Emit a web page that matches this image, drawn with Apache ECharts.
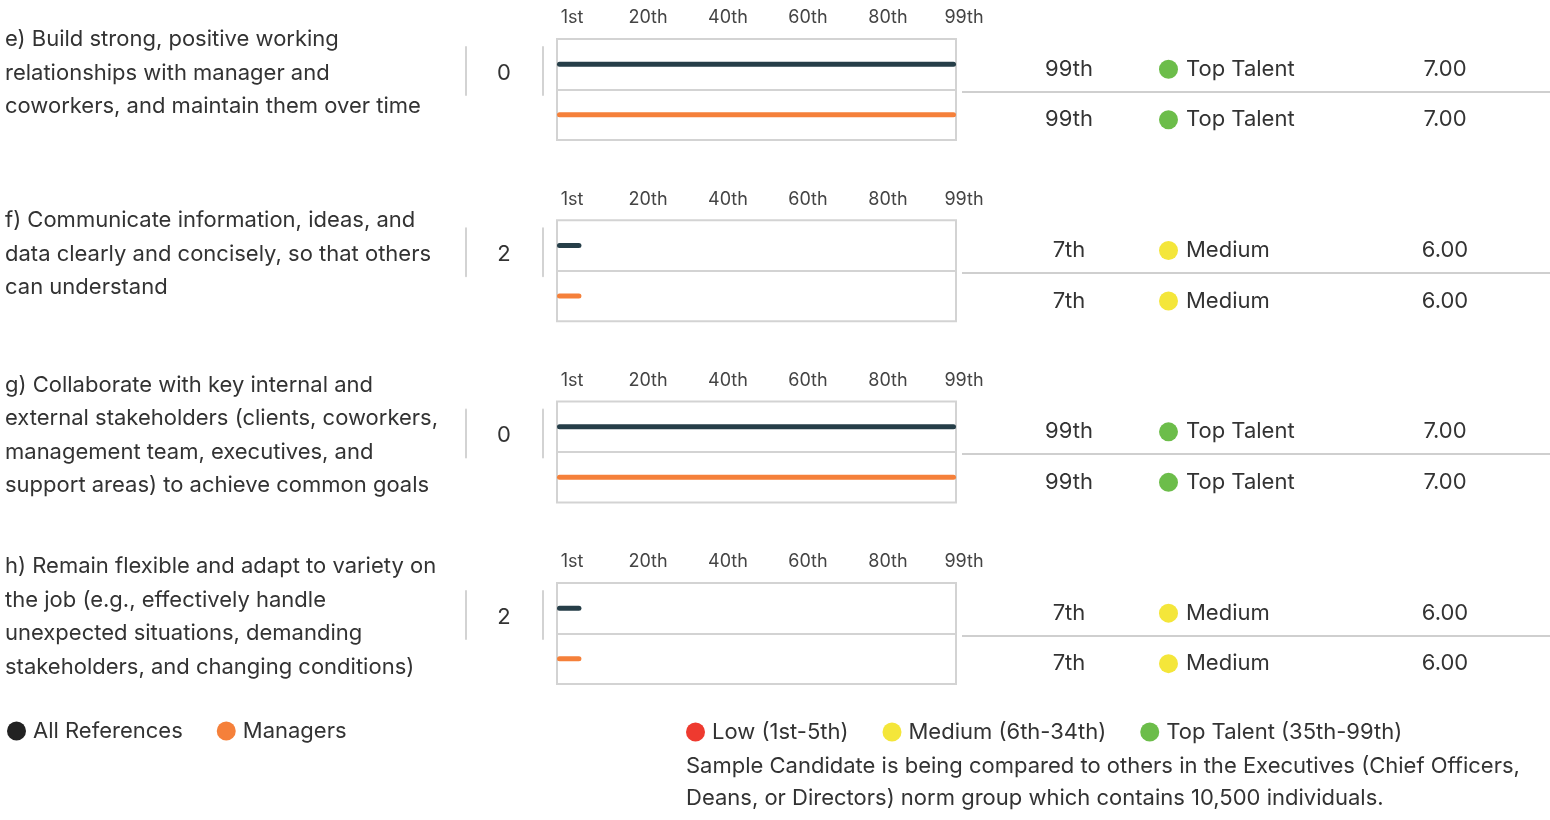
<!DOCTYPE html>
<html>
<head>
<meta charset="utf-8">
<script src="https://cdn.jsdelivr.net/npm/echarts@6/dist/echarts.min.js"></script>
<style>
  html, body { margin: 0; padding: 0; background: #fff; }
  #main { width: 1550px; height: 820px; }
</style>
</head>
<body>
<div id="main"></div>
<script>
// question texts (left column)
var questions = [
  'e) Build strong, positive working\nrelationships with manager and\ncoworkers, and maintain them over time',
  'f) Communicate information, ideas, and\ndata clearly and concisely, so that others\ncan understand',
  'g) Collaborate with key internal and\nexternal stakeholders (clients, coworkers,\nmanagement team, executives, and\nsupport areas) to achieve common goals',
  'h) Remain flexible and adapt to variety on\nthe job (e.g., effectively handle\nunexpected situations, demanding\nstakeholders, and changing conditions)'
];
var counts = [0, 2, 0, 2];
var groups = ['All References', 'Managers'];
var allRefPct = [99, 7, 99, 7];        // All References percentile
var managerPct = [99, 7, 99, 7];       // Managers percentile
var allRefRating = ['Top Talent', 'Medium', 'Top Talent', 'Medium'];
var managerRating = ['Top Talent', 'Medium', 'Top Talent', 'Medium'];
var allRefScore = [7.00, 6.00, 7.00, 6.00];
var managerScore = [7.00, 6.00, 7.00, 6.00];
var tickValues = [1, 20, 40, 60, 80, 99];
var tickLabels = ['1st', '20th', '40th', '60th', '80th', '99th'];
var ratingBands = ['Low (1st-5th)', 'Medium (6th-34th)', 'Top Talent (35th-99th)'];
var normNote = 'Sample Candidate is being compared to others in the Executives (Chief Officers,\nDeans, or Directors) norm group which contains 10,500 individuals.';

var FONT = 'Inter';
var FS = 22;
var TXT = '#333';
var LINE = '#d3d3d3';
var DARK = '#263e48';
var ORANGE = '#f5803a';
var ratingKey = { 'Low': 'dR', 'Medium': 'dY', 'Top Talent': 'dG' };
var dots = {
  dG: { width: 19, height: 19, borderRadius: 10, backgroundColor: '#6cbd4a' },
  dY: { width: 19, height: 19, borderRadius: 10, backgroundColor: '#f4e63a' },
  dR: { width: 19, height: 19, borderRadius: 10, backgroundColor: '#ee3a2f' }
};

function ordinal(n) {
  var s = ['th', 'st', 'nd', 'rd'], v = n % 100;
  return n + (s[(v - 20) % 10] || s[v] || s[0]);
}

var chart = echarts.init(document.getElementById('main'));

var grid = [], xAxis = [], yAxis = [], series = [];
var PITCH = 181.3, TOP0 = 39, H = 101;

function addGrid(g, xOpt) {
  grid.push(g);
  xAxis.push(Object.assign({ gridIndex: grid.length - 1, type: 'value', min: 0, max: 1, show: false }, xOpt || {}));
  return grid.length - 1;
}

for (var i = 0; i < questions.length; i++) {
  var T = TOP0 + i * PITCH;

  // percentile tick labels
  var gLab = addGrid({ left: 568, width: 400, top: T, height: H }, {
    min: 0, max: 100, show: true, position: 'top',
    axisLine: { show: false }, axisTick: { show: false }, splitLine: { show: false },
    axisLabel: {
      customValues: tickValues, margin: 12, fontFamily: FONT, fontSize: 18, color: '#444',
      formatter: function (v) { return tickLabels[tickValues.indexOf(v)]; }
    }
  });
  yAxis.push({ gridIndex: gLab, type: 'value', show: false });

  // bars
  var gBar = addGrid({ left: 557, width: 399, top: T, height: H, show: true, borderColor: LINE, borderWidth: 2 },
    { min: 1, max: 99 });
  var yBar = yAxis.length;
  yAxis.push({
    gridIndex: gBar, type: 'category', data: groups, inverse: true,
    axisLine: { show: false }, axisTick: { show: false }, axisLabel: { show: false },
    splitLine: { show: true, showMinLine: false, showMaxLine: false, lineStyle: { color: LINE, width: 2 } }
  });

  // separators round the count
  var gSep = addGrid({ left: 466, width: 77, top: T + 8, height: 48 });
  ['left', 'right'].forEach(function (pos) {
    yAxis.push({
      gridIndex: gSep, type: 'category', data: [''], position: pos,
      axisLine: { show: true, onZero: false, lineStyle: { color: LINE, width: 2 } },
      axisTick: { show: false }, axisLabel: { show: false }
    });
  });

  // question text + count
  var gTxt = addGrid({ left: 466, width: 77, top: T + 10, height: 48 });
  yAxis.push({
    gridIndex: gTxt, type: 'category', data: [questions[i]], position: 'left',
    axisLine: { show: false, onZero: false }, axisTick: { show: false },
    axisLabel: { align: 'left', margin: 461, fontFamily: FONT, fontSize: FS, lineHeight: 33.5, color: TXT }
  });
  yAxis.push({
    gridIndex: gTxt, type: 'category', data: [String(counts[i])], position: 'right',
    axisLine: { show: false, onZero: false }, axisTick: { show: false },
    axisLabel: { inside: true, align: 'center', margin: 39, fontFamily: FONT, fontSize: FS, color: TXT }
  });

  // divider of the table
  var gDiv = addGrid({ left: 962, right: 0, top: T + 2, height: H });
  yAxis.push({
    gridIndex: gDiv, type: 'category', data: groups, inverse: true,
    axisLine: { show: false, onZero: false }, axisTick: { show: false }, axisLabel: { show: false },
    splitLine: { show: true, showMinLine: false, showMaxLine: false, lineStyle: { color: '#cfcfcf', width: 2 } }
  });

  // table text
  var gTab = addGrid({ left: 962, right: 0, top: T + 5, height: H });
  var pctRows = [ordinal(allRefPct[i]), ordinal(managerPct[i])];
  var ratingRows = [allRefRating[i], managerRating[i]];
  var scoreRows = [allRefScore[i].toFixed(2), managerScore[i].toFixed(2)];
  var tableAxis = {
    gridIndex: gTab, type: 'category', inverse: true, position: 'left',
    axisLine: { show: false, onZero: false }, axisTick: { show: false }, splitLine: { show: false }
  };
  yAxis.push(Object.assign({}, tableAxis, {
    data: pctRows,
    axisLabel: { inside: true, align: 'center', margin: 107, fontFamily: FONT, fontSize: FS, color: TXT }
  }));
  yAxis.push(Object.assign({}, tableAxis, {
    data: ratingRows,
    axisLabel: {
      inside: true, align: 'left', margin: 197, fontFamily: FONT, fontSize: FS, color: TXT,
      formatter: function (v) { return '{' + ratingKey[v] + '| }{sp| }{r|' + v + '}'; },
      rich: Object.assign({ sp: { width: 8 }, r: { fontFamily: FONT, fontSize: FS, color: TXT } }, dots)
    }
  }));
  yAxis.push(Object.assign({}, tableAxis, {
    data: scoreRows,
    axisLabel: { inside: true, align: 'center', margin: 483, fontFamily: FONT, fontSize: FS, color: TXT }
  }));

  series.push({
    type: 'bar', name: groups[0], xAxisIndex: gBar, yAxisIndex: yBar,
    data: [allRefPct[i], '-'], barWidth: 5, barGap: '-100%', silent: true,
    itemStyle: { color: DARK, borderRadius: 3 }
  });
  series.push({
    type: 'bar', name: groups[1], xAxisIndex: gBar, yAxisIndex: yBar,
    data: ['-', managerPct[i]], barWidth: 5, barGap: '-100%', silent: true,
    itemStyle: { color: ORANGE, borderRadius: 3 }
  });
}

var bandKeys = ['dR', 'dY', 'dG'];
var bandText = ratingBands.map(function (b, k) {
  return '{' + bandKeys[k] + '| }{sp| }{t|' + b + '}' + (k < ratingBands.length - 1 ? '{gap| }' : '');
}).join('');

chart.setOption({
  animation: false,
  textStyle: { fontFamily: FONT },
  grid: grid,
  xAxis: xAxis,
  yAxis: yAxis,
  series: series,
  legend: {
    left: 2, top: 715, icon: 'circle', itemWidth: 19, itemHeight: 19, itemGap: 34,
    selectedMode: false,
    data: [
      { name: groups[0], itemStyle: { color: '#222' } },
      { name: groups[1], itemStyle: { color: ORANGE } }
    ],
    textStyle: { fontFamily: FONT, fontSize: FS, color: TXT, padding: [0, 0, 0, 2] }
  },
  title: {
    left: 681, top: 716, itemGap: 7,
    text: bandText,
    textStyle: {
      fontFamily: FONT, fontSize: FS, fontWeight: 'normal', color: TXT,
      rich: Object.assign({
        sp: { width: 7 },
        gap: { width: 34 },
        t: { fontFamily: FONT, fontSize: FS, color: TXT }
      }, dots)
    },
    subtext: normNote,
    subtextStyle: { fontFamily: FONT, fontSize: FS, color: TXT, lineHeight: 32 }
  }
});
</script>
</body>
</html>
